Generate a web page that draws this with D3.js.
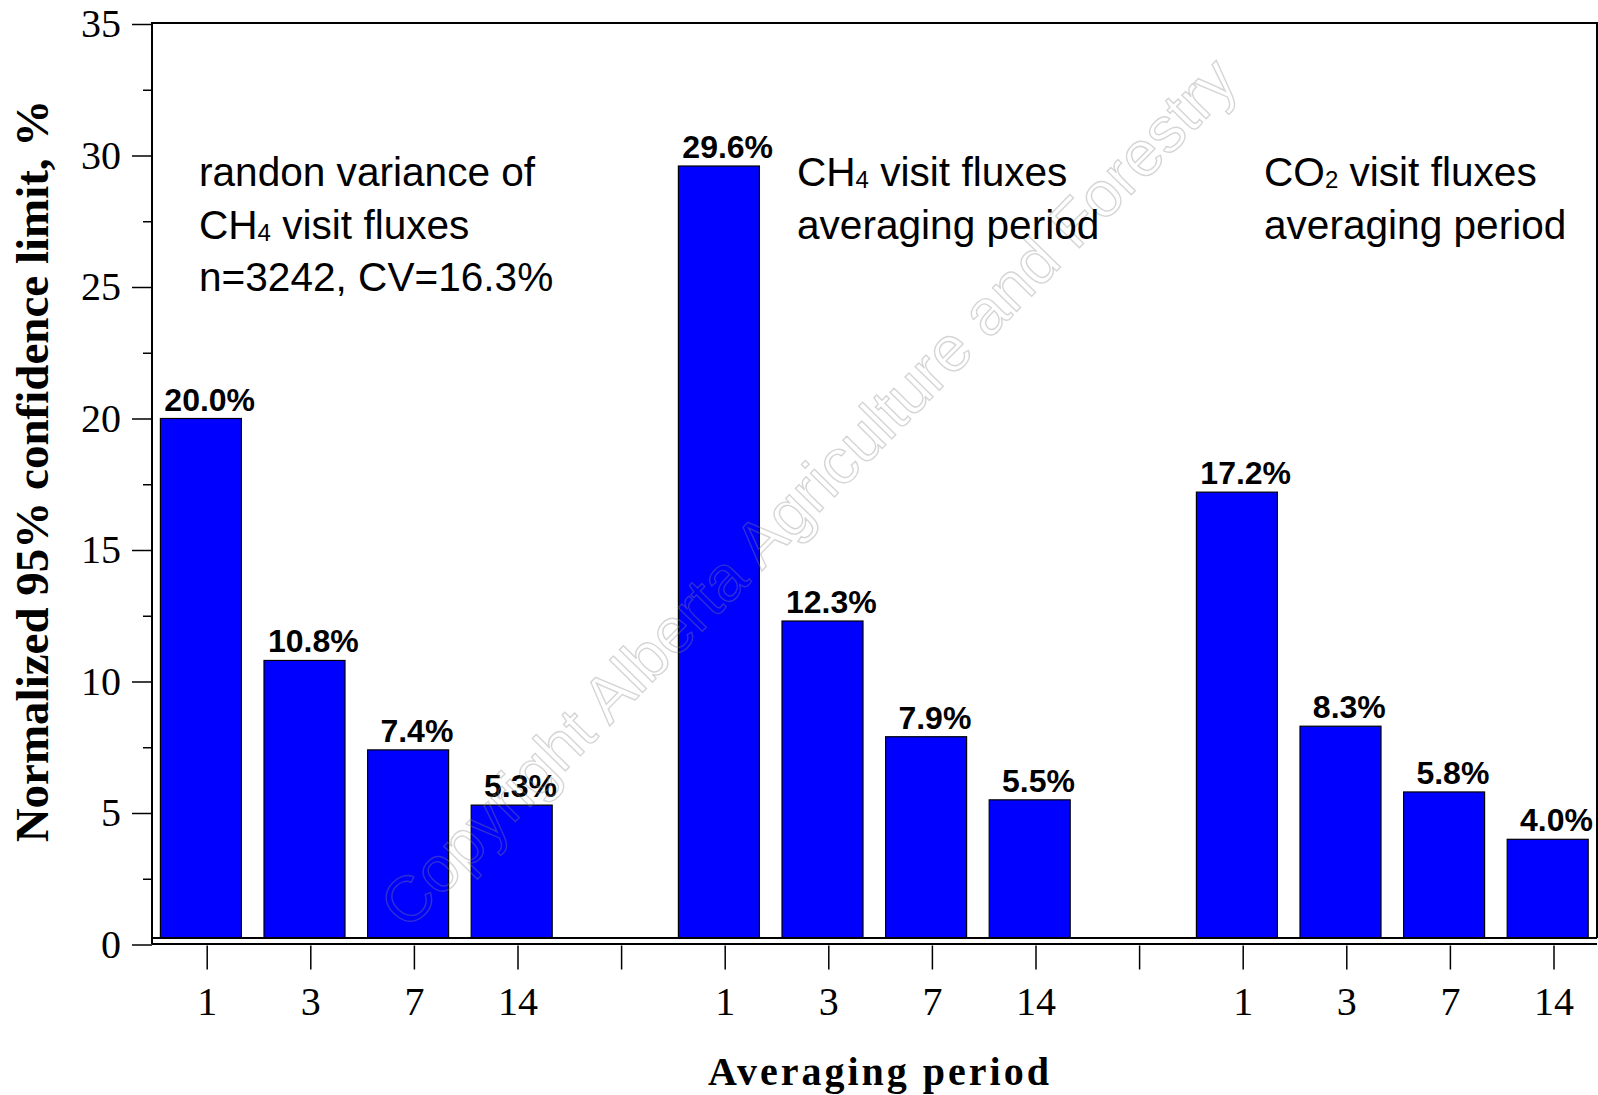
<!DOCTYPE html>
<meta charset="utf-8">
<style>
body { margin: 0; background: #fff; }
svg text { fill: #000; }
.tick text { font-family: 'Liberation Serif', 'Times New Roman', serif; font-size: 40px; }
.tick line { stroke: #000; stroke-width: 1.5; }
.bar rect { fill: #0000ff; stroke: #000; stroke-width: 1.2; }
.bar text { font-family: 'Liberation Sans', Arial, sans-serif; font-size: 32px; font-weight: bold; text-anchor: middle; }
.note { font-family: 'Liberation Sans', Arial, sans-serif; font-size: 40.6px; }
.title { font-family: 'Liberation Serif', 'Times New Roman', serif; font-weight: bold; }
.frame { stroke: #000; stroke-width: 2; fill: none; }
</style>
<svg width="1598" height="1095"></svg>
<script src="https://d3js.org/d3.v7.min.js"></script>
<script>

// values
var periods = ["1", "3", "7", "14"];
var groups = ["ch4Random", "ch4Avg", "co2Avg"];
var ch4RandomValues = [20.0, 10.8, 7.4, 5.3];
var ch4AvgValues = [29.6, 12.3, 7.9, 5.5];
var co2AvgValues = [17.2, 8.3, 5.8, 4.0];
var yTicks = [0, 5, 10, 15, 20, 25, 30, 35];
var yMinorTicks = [2.5, 7.5, 12.5, 17.5, 22.5, 27.5, 32.5];

var seriesValues = [ch4RandomValues, ch4AvgValues, co2AvgValues];

// one slot per bar, plus an empty slot between groups
var slots = [];
groups.forEach(function(g, gi) {
  periods.forEach(function(p) { slots.push(g + "|" + p); });
  if (gi < groups.length - 1) slots.push("gap" + gi);
});

var data = [];
groups.forEach(function(g, gi) {
  periods.forEach(function(p, pi) {
    data.push({slot: g + "|" + p, value: seriesValues[gi][pi]});
  });
});

var svg = d3.select("svg");
var plotLeft = 152, plotRight = 1597, plotTop = 23, plotBottom = 944;

var x = d3.scalePoint().domain(slots).range([206.7, 1553.5]);
var y = d3.scaleLinear().domain([0, 35]).range([944.5, 24]);

var barWidth = 81, barShift = -5.8, barBase = 938;

// bars
var bar = svg.selectAll(".bar")
  .data(data)
  .enter().append("g")
    .attr("class", "bar");

bar.append("rect")
    .attr("x", function(d) { return x(d.slot) + barShift - barWidth / 2; })
    .attr("y", function(d) { return y(d.value); })
    .attr("width", barWidth)
    .attr("height", function(d) { return barBase - y(d.value); });

bar.append("text")
    .attr("x", function(d) { return x(d.slot) + 3; })
    .attr("y", function(d) { return y(d.value) - 8; })
    .text(function(d) { return d.value.toFixed(1) + "%"; });

// watermark
svg.append("text")
    .attr("transform", "translate(808,492) rotate(-45.5)")
    .attr("text-anchor", "middle")
    .attr("dy", "0.35em")
    .style("font-family", "'Liberation Sans', Arial, sans-serif")
    .style("font-size", "64px")
    .style("fill", "none")
    .style("stroke", "#888")
    .style("stroke-opacity", 0.35)
    .style("stroke-width", 1.4)
    .text("Copyright Alberta Agriculture and Forestry");

// frame
svg.append("path").attr("class", "frame")
    .attr("d", "M" + plotLeft + "," + plotBottom + "V" + plotTop + "H" + plotRight + "V" + barBase);
svg.append("line").attr("class", "frame")
    .attr("x1", plotLeft).attr("x2", plotRight).attr("y1", barBase).attr("y2", barBase);
svg.append("line").attr("class", "frame")
    .attr("x1", plotLeft).attr("x2", plotRight).attr("y1", plotBottom).attr("y2", plotBottom);

// y axis
svg.append("g")
    .attr("transform", "translate(" + plotLeft + ",0)")
    .call(d3.axisLeft(y).tickValues(yTicks).tickSize(20).tickPadding(11).tickFormat(d3.format("d")))
    .call(function(g) { g.select(".domain").remove(); });

svg.append("g")
    .attr("transform", "translate(" + plotLeft + ",0)")
    .call(d3.axisLeft(y).tickValues(yMinorTicks).tickSize(9).tickFormat(""))
    .call(function(g) { g.select(".domain").remove(); });

// x axis
svg.append("g")
    .attr("transform", "translate(0," + (plotBottom + 1.5) + ")")
    .call(d3.axisBottom(x).tickSize(24).tickPadding(17)
      .tickFormat(function(d) { return d.indexOf("|") >= 0 ? d.split("|")[1] : ""; }))
    .call(function(g) { g.select(".domain").remove(); });

// axis titles
svg.append("text")
    .attr("class", "title")
    .attr("transform", "translate(48,471) rotate(-90)")
    .attr("text-anchor", "middle")
    .style("font-size", "47px")
    .text("Normalized 95% confidence limit, %");

svg.append("text")
    .attr("class", "title")
    .attr("x", 880)
    .attr("y", 1085)
    .attr("text-anchor", "middle")
    .style("font-size", "40px")
    .style("letter-spacing", "3px")
    .text("Averaging period");

// notes
function note(xPos, lines) {
  var t = svg.append("text").attr("class", "note");
  lines.forEach(function(line, i) {
    var base = 186 + i * 52.5;
    line.forEach(function(part) {
      t.append("tspan")
        .attr("x", part.first ? xPos : null)
        .attr("y", part.sub ? base + 2 : base)
        .style("font-size", part.sub ? "24px" : null)
        .text(part.text);
    });
  });
}

note(199, [
  [{text: "randon variance of", first: true}],
  [{text: "CH", first: true}, {text: "4", sub: true}, {text: " visit fluxes"}],
  [{text: "n=3242, CV=16.3%", first: true}]
]);
note(797, [
  [{text: "CH", first: true}, {text: "4", sub: true}, {text: " visit fluxes"}],
  [{text: "averaging period", first: true}]
]);
note(1264, [
  [{text: "CO", first: true}, {text: "2", sub: true}, {text: " visit fluxes"}],
  [{text: "averaging period", first: true}]
]);

</script>
